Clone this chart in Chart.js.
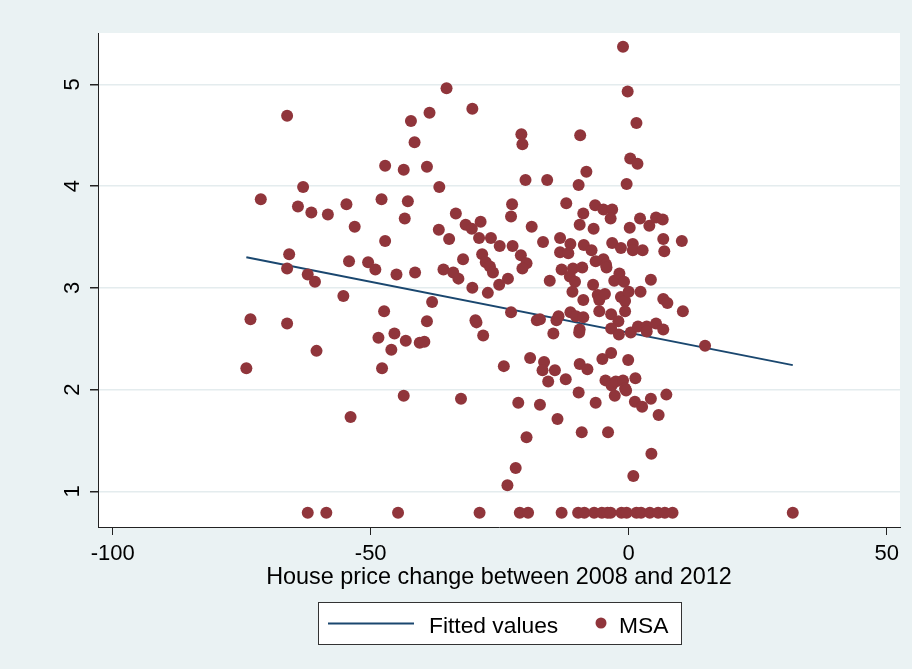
<!DOCTYPE html>
<html>
<head>
<meta charset="utf-8">
<script src="https://cdn.jsdelivr.net/npm/chart.js@4/dist/chart.umd.min.js"></script>
<style>
  body { margin: 0; background: #eaf2f3; }
  canvas { display: block; }
</style>
</head>
<body>
<canvas id="myChart" width="912" height="669"></canvas>
<script>
// MSA scatter: house price change 2008-2012 (x) vs outcome (y)
const msaX = [
  -66.2,-42.2,-38.6,-41.5,-47.2,-43.6,-39.1,-63.1,-71.3,-64.1,
  -61.5,-58.3,-54.7,-47.9,-42.8,-53.1,-43.4,-47.2,-65.8,-66.2,
  -62.2,-60.8,-54.2,-50.5,-49.1,-45.0,-41.4,-55.3,-47.4,-38.1,
  -73.3,-66.2,-39.1,-48.5,-45.4,-43.2,-40.5,-39.6,-46.0,-60.5,
  -74.1,-47.8,-43.6,-53.9,-62.2,-58.6,-44.7,
  -35.3,-30.3,-20.8,-20.6,-36.7,-20.0,-15.8,-22.6,-22.8,-33.5,
  -36.8,-34.8,-31.6,-30.4,-28.7,-29.0,-26.7,-25.0,-22.5,-18.8,
  -16.6,-13.3,-28.4,-27.7,-26.9,-26.3,-20.9,-19.8,-20.6,-13.3,
  -13.0,-32.1,-35.9,-34.0,-33.0,-23.4,-25.1,-30.3,-27.3,-15.3,
  -29.7,-29.5,-28.2,-22.8,-17.8,-17.2,-14.0,-14.6,-24.2,-19.1,
  -16.4,-16.7,-14.3,-15.6,-32.5,-21.4,-17.2,-13.8,-19.8,-21.9,
  -23.5,-28.9,-21.1,-19.5,-13.0,
  -1.1,-0.2,1.5,-9.4,0.3,1.7,-8.2,-9.7,-0.4,-12.1,
  -6.5,-4.9,-3.2,-8.8,-3.5,-9.5,-6.8,2.2,4.0,5.3,
  6.6,0.2,6.7,10.3,6.9,-11.3,-11.7,-8.7,-7.2,-3.2,
  -1.5,0.8,0.8,2.7,-10.8,-9.0,-11.4,-10.4,-6.4,-4.9,
  -4.4,-4.3,-6.9,-10.9,-8.8,-2.8,-1.8,-0.9,-6.0,-5.7,
  -4.6,-1.5,-0.7,0.0,2.3,4.3,6.7,7.5,10.5,-13.6,
  -11.3,-10.2,-8.8,-5.7,-3.4,-2.0,-0.7,-9.5,-9.6,-3.4,
  -1.9,0.4,1.8,3.5,3.5,5.3,6.7,-3.4,-5.1,-0.1,
  -9.5,-8.0,-12.2,-4.5,-3.3,-2.5,-1.1,-0.7,1.3,-2.7,
  -0.5,-9.7,-6.4,1.2,2.6,4.3,7.3,5.8,-9.1,-4.0,
  4.4,0.9,
  -9.8,-8.6,-6.7,-5.2,-4.1,-3.5,-1.4,-0.4,1.5,2.4,
  4.1,5.7,7.0,8.5,14.8,31.8
];
const msaY = [
  4.69,4.64,4.72,4.43,4.20,4.16,4.19,3.99,3.87,3.80,
  3.74,3.72,3.82,3.87,3.85,3.60,3.68,3.46,3.33,3.19,
  3.13,3.06,3.26,3.25,3.18,3.13,3.15,2.92,2.77,2.86,
  2.69,2.65,2.67,2.51,2.55,2.48,2.46,2.47,2.39,2.38,
  2.21,2.21,1.94,1.73,0.79,0.79,0.79,
  4.96,4.76,4.51,4.41,3.99,4.06,4.06,3.82,3.70,3.73,
  3.57,3.48,3.62,3.58,3.65,3.49,3.49,3.41,3.41,3.60,
  3.45,3.49,3.33,3.25,3.21,3.15,3.32,3.24,3.19,3.35,
  3.18,3.28,3.18,3.15,3.09,3.09,3.03,3.00,2.95,3.07,
  2.68,2.66,2.53,2.76,2.68,2.69,2.68,2.55,2.23,2.31,
  2.27,2.19,2.19,2.08,1.91,1.87,1.85,1.71,1.53,1.23,
  1.06,0.79,0.79,0.79,0.79,
  5.37,4.93,4.62,4.50,4.27,4.22,4.14,4.01,4.02,3.83,
  3.81,3.77,3.77,3.73,3.68,3.62,3.58,3.68,3.61,3.69,
  3.67,3.59,3.48,3.46,3.36,3.43,3.34,3.42,3.37,3.44,
  3.39,3.43,3.37,3.37,3.19,3.20,3.11,3.06,3.26,3.28,
  3.23,3.20,3.03,2.96,2.88,3.07,3.14,3.06,2.93,2.88,
  2.94,2.91,2.87,2.96,2.96,3.08,2.89,2.85,2.77,2.72,
  2.76,2.72,2.71,2.77,2.74,2.67,2.77,2.59,2.56,2.60,
  2.54,2.56,2.62,2.62,2.57,2.65,2.59,2.36,2.30,2.29,
  2.25,2.20,2.10,2.09,2.04,2.08,2.09,2.01,2.11,1.94,
  1.99,1.97,1.87,1.88,1.83,1.91,1.95,1.75,1.58,1.58,
  1.37,1.15,
  0.79,0.79,0.79,0.79,0.79,0.79,0.79,0.79,0.79,0.79,
  0.79,0.79,0.79,0.79,2.43,0.79
];

// fitted line end points
const fittedX = [-74.1, 31.8];
const fittedY = [3.30, 2.24];

const xTicks = [-100, -50, 0, 50];
const yTicks = [1, 2, 3, 4, 5];
const xTitle = 'House price change between 2008 and 2012';

const FONT = '"Liberation Sans", Arial, sans-serif';
const lineColor = '#1a476f';
const dotColor = '#90353b';

const stataDecor = {
  id: 'stataDecor',
  beforeDraw(chart) {
    const { ctx, chartArea: a } = chart;
    ctx.save();
    ctx.fillStyle = '#eaf2f3';
    ctx.fillRect(0, 0, chart.width, chart.height);
    ctx.fillStyle = '#ffffff';
    ctx.fillRect(a.left, a.top, a.right - a.left, a.bottom - a.top);
    ctx.restore();
  },
  afterDraw(chart) {
    const { ctx, chartArea: a } = chart;
    const ys = chart.scales.y;
    ctx.save();
    ctx.fillStyle = '#000';
    ctx.font = '22px ' + FONT;

    // rotated y tick labels
    yTicks.forEach(v => {
      const py = ys.getPixelForValue(v);
      ctx.save();
      ctx.translate(73, py);
      ctx.rotate(-Math.PI / 2);
      ctx.textAlign = 'center';
      ctx.textBaseline = 'middle';
      ctx.fillText(String(v), 0, 0);
      ctx.restore();
    });

    // x axis title
    ctx.font = '23.4px ' + FONT;
    ctx.textAlign = 'center';
    ctx.textBaseline = 'alphabetic';
    ctx.fillText(xTitle, (a.left + a.right) / 2, 584);

    // legend box
    const ds = chart.data.datasets;
    ctx.fillStyle = '#fff';
    ctx.fillRect(318, 602, 364, 42);
    ctx.strokeStyle = '#333';
    ctx.lineWidth = 1;
    ctx.strokeRect(318.5, 602.5, 363, 42);

    ctx.strokeStyle = ds[0].borderColor;
    ctx.lineWidth = 2;
    ctx.beginPath();
    ctx.moveTo(328, 623.5);
    ctx.lineTo(414, 623.5);
    ctx.stroke();

    ctx.font = '22.8px ' + FONT;
    ctx.fillStyle = '#000';
    ctx.textAlign = 'left';
    ctx.fillText(ds[0].label, 429, 633);

    ctx.fillStyle = ds[1].backgroundColor;
    ctx.beginPath();
    ctx.arc(601, 623, 5.5, 0, Math.PI * 2);
    ctx.fill();

    ctx.fillStyle = '#000';
    ctx.fillText(ds[1].label, 619, 633);
    ctx.restore();
  }
};

const config = {
  type: 'scatter',
  data: {
    datasets: [{
      type: 'line',
      label: 'Fitted values',
      data: fittedX.map((x, i) => ({ x: x, y: fittedY[i] })),
      borderColor: lineColor,
      borderWidth: 2,
      pointRadius: 0,
      fill: false,
      order: 1
    }, {
      label: 'MSA',
      data: msaX.map((x, i) => ({ x: x, y: msaY[i] })),
      backgroundColor: dotColor,
      borderColor: dotColor,
      borderWidth: 0,
      pointRadius: 6,
      order: 0
    }]
  },
  options: {
    responsive: false,
    animation: false,
    layout: { padding: { top: 33, right: 12, left: 0, bottom: 0 } },
    plugins: {
      legend: { display: false },
      tooltip: { enabled: false }
    },
    scales: {
      x: {
        type: 'linear',
        min: -102.85,
        max: 52.58,
        afterBuildTicks: s => { s.ticks = xTicks.map(v => ({ value: v })); },
        afterFit: s => { s.height = 142; },
        grid: { drawOnChartArea: false, tickLength: 8, tickColor: '#222', lineWidth: 1 },
        border: { display: true, color: '#222', width: 1 },
        ticks: {
          color: '#000',
          font: { family: FONT, size: 22 },
          padding: 6,
          maxRotation: 0,
          callback: v => String(v)
        }
      },
      y: {
        type: 'linear',
        min: 0.649,
        max: 5.504,
        afterBuildTicks: s => { s.ticks = yTicks.map(v => ({ value: v })); },
        afterFit: s => { s.width = 98; },
        grid: { color: '#e4ecee', lineWidth: 1.5, tickLength: 8, tickColor: '#222' },
        border: { display: true, color: '#222', width: 1 },
        ticks: { display: false }
      }
    }
  },
  plugins: [stataDecor]
};

const ctx = document.getElementById('myChart').getContext('2d');
const myChart = new Chart(ctx, config);
</script>
</body>
</html>
